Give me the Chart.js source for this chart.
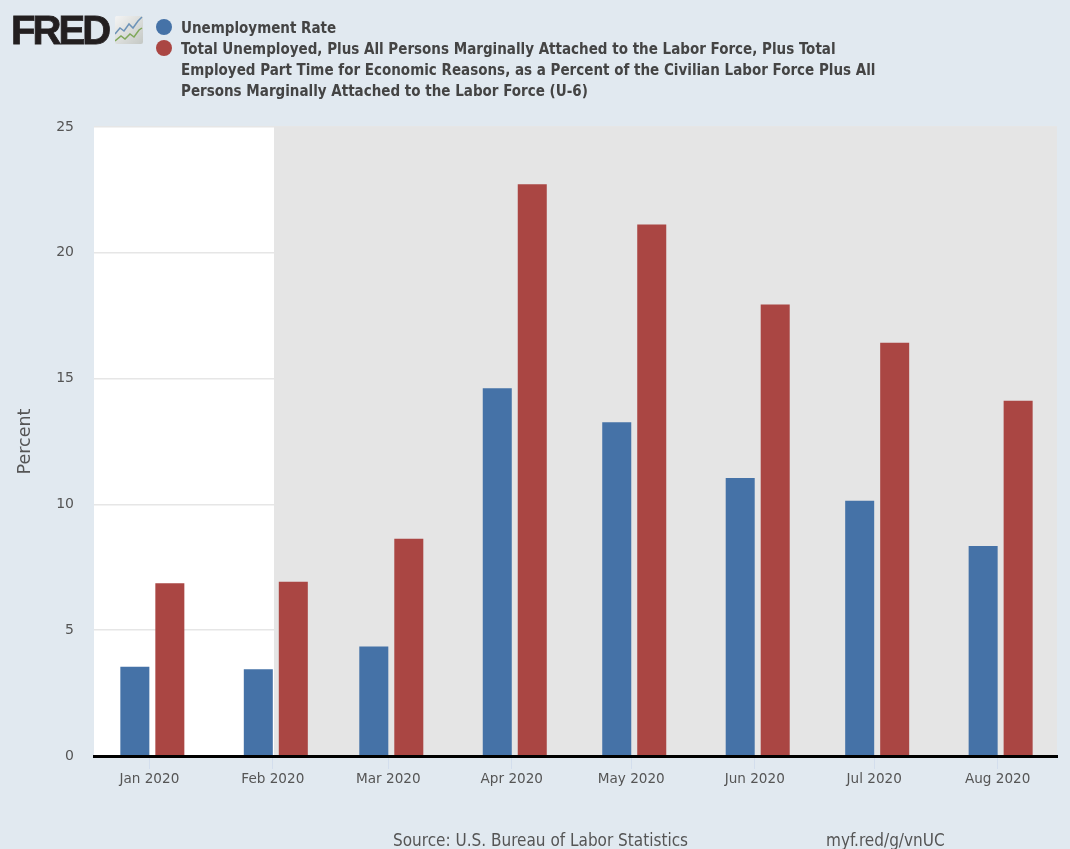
<!DOCTYPE html>
<html>
<head>
<meta charset="utf-8">
<title>FRED</title>
<script src="https://cdn.jsdelivr.net/npm/chart.js@4/dist/chart.umd.js"></script>
<style>
html, body { margin: 0; padding: 0; background: #e1e9f0; }
body { width: 1070px; height: 849px; position: relative; overflow: hidden; font-family: "DejaVu Sans", sans-serif; }
#chart { position: absolute; left: 0; top: 0; }
#logo { position: absolute; left: 11px; top: 6px; font: bold 40px/48px "Liberation Sans", sans-serif; color: #231f20; letter-spacing: -2.9px; -webkit-text-stroke: 0.8px #231f20; }
#icon { position: absolute; left: 115px; top: 16px; }
#legend { position: absolute; left: 156px; top: 18px; color: #444; font: bold 15px/21px "DejaVu Sans Condensed", "DejaVu Sans", sans-serif; }
.item { position: relative; padding-left: 25px; white-space: nowrap; }
.dot { position: absolute; left: 0; top: 1px; width: 16px; height: 16px; border-radius: 50%; }
.foot { position: absolute; top: 830px; color: #555; font: 17px/20px "DejaVu Sans Condensed", "DejaVu Sans", sans-serif; white-space: nowrap; }
</style>
</head>
<body>
<canvas id="chart" width="1070" height="849"></canvas>
<div id="logo">FRED</div>
<svg id="icon" width="28" height="28" viewBox="0 0 28 28">
  <defs><linearGradient id="g" x1="0" y1="0" x2="1" y2="1"><stop offset="0" stop-color="#f4f4f4"/><stop offset="1" stop-color="#c4c8c4"/></linearGradient></defs>
  <rect width="28" height="28" rx="2" fill="url(#g)"/>
  <polyline points="0,18 5,12 9,15 14,8 18,12 23,5 27,1" fill="none" stroke="#6d93b8" stroke-width="1.5"/>
  <polyline points="0,25 6,20 10,23 15,18 19,21 24,14 27,12" fill="none" stroke="#7fa85a" stroke-width="1.5"/>
</svg>
<div id="legend"></div>
<div class="foot" id="source" style="left:393px"></div>
<div class="foot" id="link" style="left:826px"></div>
<script>
var months = ["Jan 2020","Feb 2020","Mar 2020","Apr 2020","May 2020","Jun 2020","Jul 2020","Aug 2020"];
var days = [0,31,60,91,121,152,182,213];  // days since 1 Jan 2020
var unemployment = [3.55,3.45,4.35,14.62,13.27,11.05,10.15,8.35];
var u6 = [6.87,6.93,8.63,22.72,21.12,17.95,16.42,14.12];
var yTicks = [0,5,10,15,20,25];
var recessionStart = 31.3;
var seriesColors = ["#4572a7","#aa4643"];
var seriesNames = [
    ["Unemployment Rate"],
    ["Total Unemployed, Plus All Persons Marginally Attached to the Labor Force, Plus Total",
     "Employed Part Time for Economic Reasons, as a Percent of the Civilian Labor Force Plus All",
     "Persons Marginally Attached to the Labor Force (U-6)"]
];
var yTitle = "Percent";
var sourceText = "Source: U.S. Bureau of Labor Statistics";
var linkText = "myf.red/g/vnUC";

// bars sit slightly right of the month tick in the original
var barShift = 0.75;

function points(values){
    var out = [];
    for (var i = 0; i < values.length; i++) {
        out.push({x: days[i] + barShift, y: values[i]});
    }
    return out;
}

var legend = document.getElementById("legend");
for (var s = 0; s < seriesNames.length; s++) {
    var item = document.createElement("div");
    item.className = "item";
    item.innerHTML = '<span class="dot" style="background:' + seriesColors[s] + '"></span>' + seriesNames[s].join("<br>");
    legend.appendChild(item);
}
document.getElementById("source").textContent = sourceText;
document.getElementById("link").textContent = linkText;

var plotBackground = {
    id: "plotBackground",
    beforeDraw: function(chart){
        var a = chart.chartArea, ctx = chart.ctx;
        ctx.save();
        ctx.fillStyle = "#ffffff";
        ctx.fillRect(a.left, a.top, a.right - a.left, a.bottom - a.top);
        ctx.restore();
    },
    beforeDatasetsDraw: function(chart){
        var a = chart.chartArea, ctx = chart.ctx;
        var x0 = chart.scales.x.getPixelForValue(recessionStart);
        ctx.save();
        ctx.fillStyle = "#e5e5e5";
        ctx.fillRect(x0, a.top, a.right - x0, a.bottom - a.top);
        ctx.restore();
    }
};

var chart = new Chart(document.getElementById("chart"), {
    type: "bar",
    plugins: [plotBackground],
    data: {
        datasets: [
            {label: seriesNames[0].join(" "), data: points(unemployment), backgroundColor: seriesColors[0]},
            {label: seriesNames[1].join(" "), data: points(u6), backgroundColor: seriesColors[1]}
        ]
    },
    options: {
        responsive: false,
        animation: false,
        devicePixelRatio: 1,
        categoryPercentage: 0.606,
        barPercentage: 0.829,
        layout: {padding: {top: 127, right: 13, left: 0, bottom: 0}},
        plugins: {legend: {display: false}, title: {display: false}, tooltip: {enabled: false}},
        scales: {
            x: {
                type: "linear",
                offset: false,
                min: -13.9,
                max: 227.9,
                afterBuildTicks: function(axis){
                    axis.ticks = days.map(function(d){ return {value: d}; });
                },
                afterFit: function(axis){ axis.height = 93; },
                grid: {offset: false, drawOnChartArea: false, drawTicks: true, tickLength: 13, tickColor: "#d3deed", tickWidth: 1},
                border: {color: "#000000", width: 3, z: 2},
                ticks: {
                    autoSkip: false,
                    maxRotation: 0,
                    color: "#555555",
                    padding: 2,
                    font: {family: "DejaVu Sans", size: 13.6},
                    callback: function(value, index){ return months[index]; }
                }
            },
            y: {
                min: 0,
                max: 25,
                afterBuildTicks: function(axis){
                    axis.ticks = yTicks.map(function(v){ return {value: v}; });
                },
                afterFit: function(axis){ axis.width = 94; },
                grid: {color: "#e6e6e6", lineWidth: 1.5, drawTicks: false},
                border: {display: false},
                title: {display: true, text: yTitle, color: "#555555", padding: {top: 15, bottom: 0}, font: {family: "DejaVu Sans", size: 17.5}},
                ticks: {color: "#555555", padding: 20, font: {family: "DejaVu Sans", size: 14}}
            }
        }
    }
});
</script>
</body>
</html>
